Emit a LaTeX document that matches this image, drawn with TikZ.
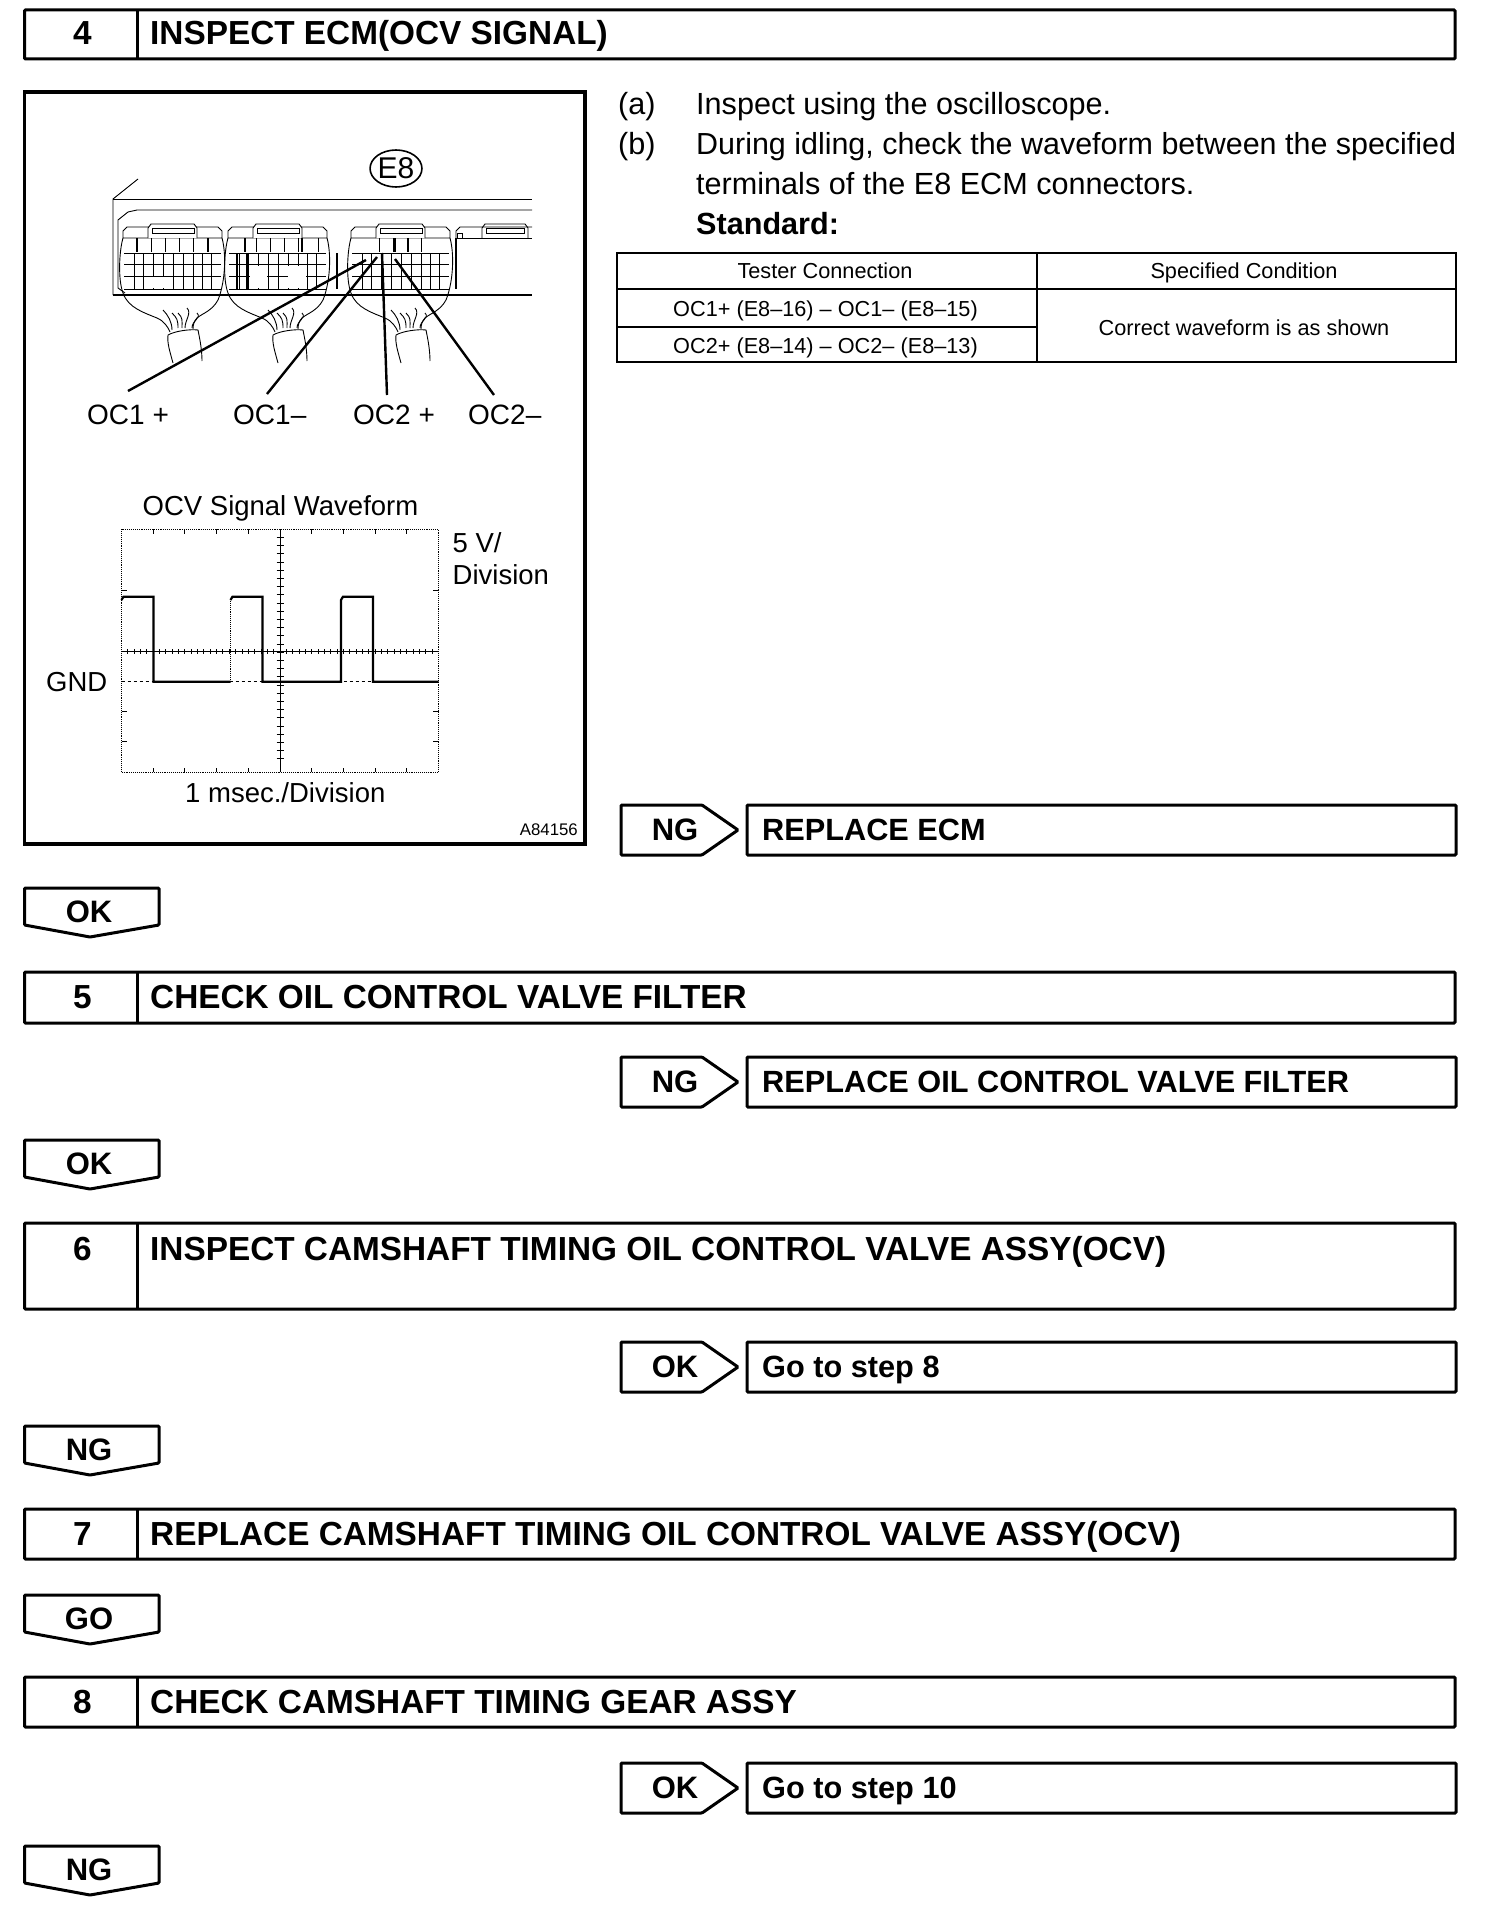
\documentclass[tikz,border=0pt]{standalone}
\usepackage{fontspec}
\setmainfont{Liberation Sans}
\usetikzlibrary{shapes.geometric}
\newcommand{\fs}[1]{\fontsize{#1}{#1}\selectfont}
\tikzset{
	heavy/.style={line width=3pt, rounded corners=1pt},
	thin/.style={line width=.9pt},
	wave/.style={line width=2.2pt},
	lead/.style={line width=2.4pt},
	txt/.style={inner sep=0, anchor=base west, font=\fs{30.6}},
	small/.style={inner sep=0, anchor=base, font=\fs{21.7}},
	label/.style={inner sep=0, anchor=base west, font=\fs{28}},
	wavelabel/.style={inner sep=0, anchor=base west, font=\fs{27.5}},
	head/.style={inner sep=0, anchor=base west, font=\fs{33.35}\bfseries},
	mid/.style={inner sep=0, anchor=base, font=\fs{33.35}\bfseries},
	tagtext/.style={inner sep=0, anchor=base, font=\fs{31}\bfseries},
	result/.style={inner sep=0, anchor=base west, font=\fs{30.7}\bfseries}
}
\begin{document}
\begin{tikzpicture}[x=1pt,y=-1pt]
			\useasboundingbox (0,0) rectangle (1504,1924);
			\fill[white] (0,0) rectangle (1504,1924);
			% step bars
			\foreach \num/\ytop/\ybot/\base/\title in {
				4/10/59/45/INSPECT ECM(OCV SIGNAL),
				5/972/1023/1008/CHECK OIL CONTROL VALVE FILTER,
				6/1223/1309/1260/INSPECT CAMSHAFT TIMING OIL CONTROL VALVE ASSY(OCV),
				7/1509/1559/1545/REPLACE CAMSHAFT TIMING OIL CONTROL VALVE ASSY(OCV),
				8/1677/1727/1713/CHECK CAMSHAFT TIMING GEAR ASSY}{
				\draw[heavy] (24.5,\ytop) rectangle (1455,\ybot);
				\draw[heavy] (137,\ytop) -- (137,\ybot);
				\node[mid] (num\num) at (82.5,\base) {\num};
				\node[head] (title\num) at (150,\base) {\title};
			}
			% tags pointing down
			\foreach \tagname/\ytop/\word in {oka/888/OK, okb/1140/OK, nga/1426/NG, go/1595/GO, ngb/1846/NG}{
				\draw[heavy] (24.5,\ytop) -- (159,\ytop) -- (159,\ytop+37) -- (90,\ytop+49) -- (24.5,\ytop+37) -- cycle;
				\node[tagtext] (\tagname) at (89,\ytop+34) {\word};
			}
			% tags pointing right, with their boxes
			\foreach \tagname/\ytop/\word/\restext in {
				ngc/805/NG/REPLACE ECM,
				ngd/1057/NG/REPLACE OIL CONTROL VALVE FILTER,
				okc/1342/OK/Go to step 8,
				okd/1763/OK/Go to step 10}{
				\draw[heavy] (621,\ytop) -- (702,\ytop) -- (738,\ytop+25) -- (702,\ytop+50) -- (621,\ytop+50) -- cycle;
				\draw[heavy] (747,\ytop) rectangle (1456,\ytop+50);
				\node[tagtext] (\tagname) at (675,\ytop+35) {\word};
				\node[result] (\tagname res) at (762,\ytop+35) {\restext};
			}
			% panel
			\draw[line width=3.4pt] (24.5,92) rectangle (585,844);
			% ecm case
			\draw[thin] (138,179) -- (113,199) -- (113,295);
			\draw[thin] (113,199) -- (532,199);
			\draw[thin] (118,288) -- (118,220) -- (128,212) -- (137,210) -- (532,210);
			\draw[line width=2pt] (113,295) -- (532,295);
			\draw[thin] (118,288) -- (125,293);
			% plugs
			\foreach \plug in {0,105,228}{
				\begin{scope}[xshift=\plug pt]
					\draw[thin] (123,238) -- (123,231) -- (127,227) -- (218,227) -- (222,231) -- (222,238) -- cycle;
					\draw[thin, fill=white] (148,238) -- (148,228) -- (151,224) -- (194,224) -- (197,228) -- (197,238);
					\draw[thin] (152,228) rectangle (194,233);
					\foreach \xx in {151.7,165.7,179.3,193.3}
						\draw[thin] (\xx,238) -- (\xx,252);
					\foreach \yy in {253,264.3,276,289}
						\draw[thin] (124,\yy) -- (221,\yy);
					\foreach \xx in {134.3,143.3,153.3,163.3,173.3,183.3,193.3,202.7,211.7}
						\draw[thin] (\xx,253) -- (\xx,289);
				\end{scope}
			}
			% plug details
			\fill[white] (144,277) rectangle (173,288);
			\fill[white] (250,265.5) rectangle (267,288);
			\fill[white] (288,265.5) rectangle (306,288);
			\foreach \xx in {136.7,208.3,245,302,318.5,395,408.5}
				\draw[line width=1.8pt] (\xx,238) -- (\xx,252);
			\foreach \xx in {236.7,246.7,336.7}
				\draw[line width=1.8pt] (\xx,253) -- (\xx,289);
			% hoods and wires
			\foreach \plug in {0,105,228}{
				\begin{scope}[xshift=\plug pt]
					\draw[thin] (123,238) .. controls (119,252) and (118,280) .. (123,293) .. controls (128,308) and (145,313) .. (157,318) .. controls (164,321) and (168,327) .. (170,332);
					\draw[thin] (222,238) .. controls (226,252) and (226,280) .. (218,300) .. controls (212,311) and (203,313) .. (197,318) .. controls (194,321) and (193,325) .. (193,329);
					\draw[thin] (173,363) .. controls (170,352) and (167,343) .. (168,335) .. controls (175,331) and (190,329) .. (198,330) .. controls (200,340) and (202,350) .. (202,361);
					\foreach \xa/\ya/\xb/\yb in {163/310/172/330, 172/313/178/328, 178/313/182/328, 187/308/185/328, 197/313/192/328}
						\draw[thin] (\xa,\ya) .. controls (\xa+5,\ya+5) and (\xb,\yb-8) .. (\xb,\yb);
				\end{scope}
			}
			% fourth plug
			\draw[line width=1.8pt] (456,238) -- (456,289);
			\draw[thin] (456,238) -- (456,231) -- (460,227) -- (532,227);
			\draw[thin] (456,238) -- (532,238);
			\draw[thin] (457,233) rectangle (462,238);
			\draw[thin] (482,238) -- (482,228) -- (485,224) -- (525,224) -- (528,228) -- (528,238);
			\draw[thin] (486,228) rectangle (524,233);
			% connector name and terminals
			\node[draw, ellipse, line width=1.6pt, inner sep=0, minimum width=48pt, minimum height=37pt, font=\fs{30}] (etag) at (396,168.5) {E8};
			\node[label] (ocaplus) at (87,424) {OC1 +};
			\node[label] (ocaminus) at (233,424) {OC1–};
			\node[label] (ocbplus) at (353,424) {OC2 +};
			\node[label] (ocbminus) at (468,424) {OC2–};
			\coordinate (pina) at (366,260);
			\coordinate (pinb) at (377,257);
			\coordinate (pinc) at (382,253);
			\coordinate (pind) at (395,259);
			\draw[lead] (128,391) -- (pina);
			\draw[lead] (267,394) -- (pinb);
			\draw[lead] (387,395) -- (pinc);
			\draw[lead] (494,395) -- (pind);
			% scope frame and ticks
			\draw[thin, densely dotted] (121.5,529.3) rectangle (438.5,772.3);
			\draw[thin] (280,529.3) -- (280,772.3);
			\draw[thin] (121.5,651.3) -- (438.5,651.3);
			\draw[thin, dashed] (121.5,681.7) -- (438.5,681.7);
			\foreach \i in {1,...,9}{
				\draw[thin] (121.5+31.7*\i,529.3) -- (121.5+31.7*\i,534);
				\draw[thin] (121.5+31.7*\i,772.3) -- (121.5+31.7*\i,767.6);
			}
			\foreach \i in {2,6,7}{
				\draw[thin] (121.5,529.3+30.375*\i) -- (127,529.3+30.375*\i);
				\draw[thin] (438.5,529.3+30.375*\i) -- (433,529.3+30.375*\i);
			}
			\foreach \i in {1,...,49}
				\draw[thin] (121.5+6.34*\i,649) -- (121.5+6.34*\i,653.6);
			\foreach \i in {1,...,28}
				\draw[thin] (276.5,529.3+8.2*\i) -- (283.5,529.3+8.2*\i);
			% waveform
			\draw[wave] (121.5,600) -- (123.5,596.7) -- (153.5,596.7) -- (153.5,681.7) -- (230.5,681.7);
			\draw[thin, densely dotted] (230.5,681.7) -- (230.5,600);
			\draw[wave] (230.5,600) -- (232.5,596.7) -- (262.5,596.7) -- (262.5,681.7) -- (341,681.7) -- (341,600) -- (343,596.7) -- (373,596.7) -- (373,681.7) -- (438.5,681.7);
			% scope labels
			\node[wavelabel] (wavename) at (142.5,515) {OCV Signal Waveform};
			\node[wavelabel] (voltdiv) at (452.5,552.7) {5 V/};
			\node[wavelabel] (voltdivb) at (452.5,584) {Division};
			\node[wavelabel] (gnd) at (46,691.7) {GND};
			\node[wavelabel] (timediv) at (185,802) {1 msec./Division};
			\node[inner sep=0, anchor=base east, font=\fs{16.8}] (figno) at (578,835) {A84156};
			% instructions
			\node[txt] (stepa) at (618,115) {(a)};
			\node[txt] (linea) at (696,115) {Inspect using the oscilloscope.};
			\node[txt] (stepb) at (618,154) {(b)};
			\node[txt, font=\fs{30.45}] (lineb) at (696,154) {During idling, check the waveform between the specified};
			\node[txt] (linec) at (696,194) {terminals of the E8 ECM connectors.};
			\node[txt, font=\fs{30.6}\bfseries] (standard) at (696,234) {Standard:};
			% table
			\draw[line width=2.4pt] (617,253) rectangle (1456,362);
			\draw[line width=2.2pt] (1037,253) -- (1037,362);
			\draw[line width=2.2pt] (617,289) -- (1456,289);
			\draw[line width=2.2pt] (617,327) -- (1037,327);
			\node[small] (cella) at (825,278) {Tester Connection};
			\node[small] (cellb) at (1244,278) {Specified Condition};
			\node[small] (cellc) at (825.5,316) {OC1+ (E8–16) – OC1– (E8–15)};
			\node[small] (celld) at (825.5,353) {OC2+ (E8–14) – OC2– (E8–13)};
			\node[small] (celle) at (1244,335) {Correct waveform is as shown};
\end{tikzpicture}
\end{document}
